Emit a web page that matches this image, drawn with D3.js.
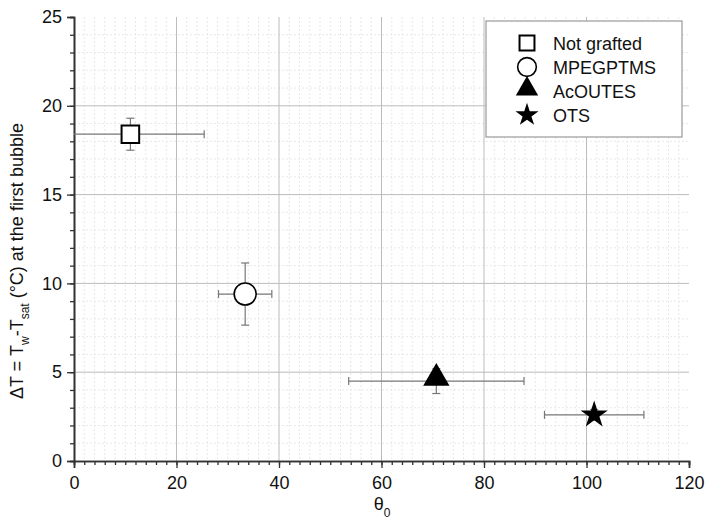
<!DOCTYPE html>
<html>
<head>
<meta charset="utf-8">
<script src="https://cdn.jsdelivr.net/npm/d3@7"></script>
<style>
  body { margin: 0; background: #fff; }
  svg { font-family: "Liberation Sans", Arial, sans-serif; }
</style>
</head>
<body>
<svg id="chart" width="706" height="524"></svg>
<script>
// data
const names = ["Not grafted", "MPEGPTMS", "AcOUTES", "OTS"];
const theta = [11.0, 33.4, 70.7, 101.5];
const thetaErr = [14.4, 5.2, 17.1, 9.7];
const deltaT = [18.4, 9.4, 4.5, 2.6];
const deltaTErr = [0.9, 1.75, 0.7, 0.3];
const xTicks = [0, 20, 40, 60, 80, 100, 120];
const yTicks = [0, 5, 10, 15, 20, 25];

let svg = d3.select('#chart'),
    pLeft = 74, pRight = 689, pTop = 17, pBottom = 461;

let x = d3.scaleLinear().domain([0, 120]).range([pLeft, pRight]);
let y = d3.scaleLinear().domain([0, 25]).range([pBottom, pTop]);

// minor grid
let grid = svg.append('g');
grid.selectAll('.mx').data(d3.range(2, 120, 2).filter(v => v % 20)).enter().append('line')
    .attr('x1', d => x(d)).attr('x2', d => x(d)).attr('y1', pTop).attr('y2', pBottom)
    .attr('stroke', '#e8e8e8').attr('stroke-dasharray', '2,2');
grid.selectAll('.my').data(d3.range(1, 25, 1).filter(v => v % 5)).enter().append('line')
    .attr('y1', d => y(d)).attr('y2', d => y(d)).attr('x1', pLeft).attr('x2', pRight)
    .attr('stroke', '#e8e8e8').attr('stroke-dasharray', '2,2');
// major grid
grid.selectAll('.gx').data(xTicks.slice(1, -1)).enter().append('line')
    .attr('x1', d => x(d)).attr('x2', d => x(d)).attr('y1', pTop).attr('y2', pBottom)
    .attr('stroke', '#bcbcbc');
grid.selectAll('.gy').data(yTicks.slice(1, -1)).enter().append('line')
    .attr('y1', d => y(d)).attr('y2', d => y(d)).attr('x1', pLeft).attr('x2', pRight)
    .attr('stroke', '#bcbcbc');

// axes
svg.append('g').attr('transform', `translate(0,${pBottom})`)
    .call(d3.axisBottom(x).tickValues(d3.range(0, 121, 2)).tickSize(4).tickFormat(''));
let xAxis = svg.append('g').attr('transform', `translate(0,${pBottom})`)
    .call(d3.axisBottom(x).tickValues(xTicks).tickSize(7).tickPadding(8));
svg.append('g').attr('transform', `translate(${pLeft},0)`)
    .call(d3.axisLeft(y).tickValues(d3.range(0, 26, 1)).tickSize(4).tickFormat(''));
let yAxis = svg.append('g').attr('transform', `translate(${pLeft},0)`)
    .call(d3.axisLeft(y).tickValues(yTicks).tickSize(7).tickPadding(5));

svg.selectAll('.domain').attr('stroke', '#333').attr('stroke-width', 1.6);
svg.selectAll('.tick line').attr('stroke', '#333').attr('stroke-width', 1.3);
xAxis.selectAll('text').attr('font-size', 18).attr('fill', '#111');
yAxis.selectAll('text').attr('font-size', 18).attr('fill', '#111');

// axis titles
let xl = svg.append('text').attr('x', 382).attr('y', 510).attr('font-size', 18)
    .attr('text-anchor', 'middle').attr('fill', '#111');
xl.append('tspan').text('θ');
xl.append('tspan').attr('font-size', 12).attr('dy', 7).text('0');

let yl = svg.append('text').attr('transform', `translate(23,261) rotate(-90)`)
    .attr('text-anchor', 'middle').attr('font-size', 18).attr('fill', '#111');
yl.append('tspan').text('ΔT = T');
yl.append('tspan').attr('font-size', 12).attr('dy', 6).text('w');
yl.append('tspan').attr('dy', -6).text('-T');
yl.append('tspan').attr('font-size', 12).attr('dy', 6).text('sat');
yl.append('tspan').attr('dy', -6).text('  (°C) at the first bubble');

// error bars
let pts = names.map((n, i) => ({ n, i, x: theta[i], xe: thetaErr[i], y: deltaT[i], ye: deltaTErr[i] }));
let eb = svg.append('g').attr('stroke', '#777').attr('stroke-width', 1.2);
pts.forEach(d => {
    let x0 = Math.max(0, d.x - d.xe), x1 = d.x + d.xe;
    eb.append('line').attr('x1', x(x0)).attr('x2', x(x1)).attr('y1', y(d.y)).attr('y2', y(d.y));
    if (d.x - d.xe >= 0)
        eb.append('line').attr('x1', x(x0)).attr('x2', x(x0)).attr('y1', y(d.y) - 4).attr('y2', y(d.y) + 4);
    eb.append('line').attr('x1', x(x1)).attr('x2', x(x1)).attr('y1', y(d.y) - 4).attr('y2', y(d.y) + 4);
    eb.append('line').attr('x1', x(d.x)).attr('x2', x(d.x)).attr('y1', y(d.y - d.ye)).attr('y2', y(d.y + d.ye));
    eb.append('line').attr('x1', x(d.x) - 4).attr('x2', x(d.x) + 4).attr('y1', y(d.y - d.ye)).attr('y2', y(d.y - d.ye));
    eb.append('line').attr('x1', x(d.x) - 4).attr('x2', x(d.x) + 4).attr('y1', y(d.y + d.ye)).attr('y2', y(d.y + d.ye));
});

// markers
const shapes = [
    { type: d3.symbolSquare, size: 310, fill: '#fff', sw: 2 },
    { type: d3.symbolCircle, size: 380, fill: '#fff', sw: 1.6 },
    { type: d3.symbolTriangle, size: 300, fill: '#000', sw: 0 },
    { type: d3.symbolStar, size: 230, fill: '#000', sw: 0 }
];
function marker(g, i, scale) {
    let s = shapes[i];
    return g.append('path')
        .attr('d', d3.symbol().type(s.type).size(s.size * scale)())
        .attr('fill', s.fill).attr('stroke', '#000').attr('stroke-width', s.sw);
}
pts.forEach(d => {
    let g = svg.append('g').attr('transform', `translate(${x(d.x)},${y(d.y)})`);
    marker(g, d.i, 1).attr('transform', d.i == 2 ? 'translate(0,-3)' : null);
});

// legend
let lg = svg.append('g');
lg.append('rect').attr('x', 486).attr('y', 21).attr('width', 196).attr('height', 116)
    .attr('fill', '#fff').attr('stroke', '#999').attr('stroke-width', 1.2);
names.forEach((n, i) => {
    let cy = 43 + i * 24;
    let g = lg.append('g').attr('transform', `translate(527,${cy})`);
    marker(g, i, 0.72).attr('transform', i == 2 ? 'translate(0,-2)' : null);
    lg.append('text').attr('x', 553).attr('y', cy + 6.5).attr('font-size', 18).attr('fill', '#111').text(n);
});
</script>
</body>
</html>
